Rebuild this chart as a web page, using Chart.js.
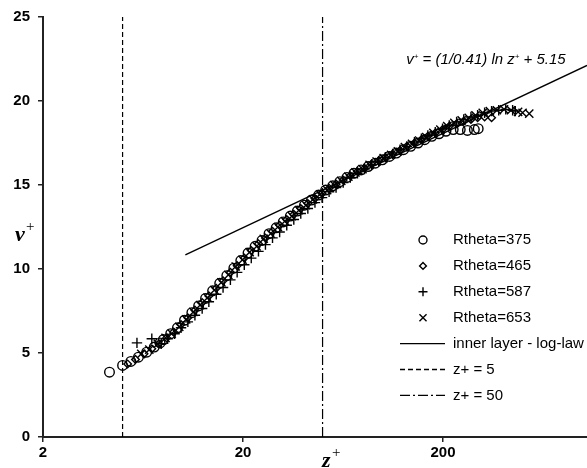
<!DOCTYPE html>
<html>
<head>
<meta charset="utf-8">
<script src="https://cdn.jsdelivr.net/npm/chart.js@4.4.1/dist/chart.umd.min.js"></script>
<style>
  html, body { margin: 0; padding: 0; background: #fff; }
  canvas { display: block; }
</style>
</head>
<body>
<canvas id="profileChart" width="587" height="468"></canvas>
<script>
// velocity profiles v+ against z+ for four Reynolds numbers
const z375 = [4.3, 5.0, 5.5, 6.0, 6.6, 7.2, 7.7, 8.0, 8.7, 9.4, 10.2, 11.1, 12.0, 13.0, 14.1, 15.3, 16.6, 18.0, 19.5, 21.2, 23.0, 24.9, 27.0, 29.3, 31.8, 34.5, 37.4, 40.6, 44.0, 47.8, 51.8, 56.2, 61.0, 66.2, 71.8, 77.9, 84.5, 91.7, 99.5, 108, 117, 127, 138, 150, 162, 176, 191, 207, 225, 244, 265, 287, 300];
const v375 = [3.86, 4.26, 4.5, 4.75, 5.05, 5.35, 5.6, 5.8, 6.15, 6.5, 6.95, 7.4, 7.8, 8.25, 8.7, 9.15, 9.6, 10.05, 10.5, 10.95, 11.35, 11.7, 12.1, 12.45, 12.8, 13.15, 13.45, 13.8, 14.1, 14.4, 14.7, 14.95, 15.2, 15.45, 15.7, 15.9, 16.1, 16.3, 16.5, 16.7, 16.9, 17.1, 17.3, 17.5, 17.7, 17.9, 18.05, 18.2, 18.3, 18.3, 18.25, 18.3, 18.35];

const z465 = [5.3, 5.8, 6.4, 7.0, 7.6, 8.3, 9.0, 9.8, 10.6, 11.5, 12.5, 13.5, 14.7, 15.9, 17.3, 18.7, 20.3, 22.0, 23.9, 25.9, 28.1, 30.5, 33.1, 35.9, 38.9, 42.2, 45.8, 49.7, 53.9, 58.4, 63.4, 68.8, 74.7, 81.0, 87.9, 95.4, 103, 112, 122, 132, 144, 156, 168, 183, 199, 215, 234, 254, 276, 298, 323, 350];
const v465 = [4.35, 4.62, 4.95, 5.25, 5.55, 5.9, 6.25, 6.7, 7.1, 7.55, 8.0, 8.4, 8.85, 9.3, 9.8, 10.2, 10.65, 11.1, 11.5, 11.85, 12.25, 12.6, 12.95, 13.25, 13.6, 13.9, 14.2, 14.5, 14.8, 15.05, 15.3, 15.55, 15.8, 16.0, 16.25, 16.45, 16.65, 16.85, 17.05, 17.3, 17.5, 17.7, 17.9, 18.1, 18.3, 18.5, 18.65, 18.8, 18.9, 19.0, 19.05, 19.0];

const z587 = [5.9, 7.0, 7.8, 8.4, 9.1, 9.8, 10.6, 11.5, 12.5, 13.5, 14.7, 15.9, 17.3, 18.7, 20.3, 22.0, 23.9, 25.9, 28.1, 30.5, 33.1, 35.9, 38.9, 42.2, 45.8, 49.7, 53.9, 58.4, 63.4, 68.8, 74.7, 81.0, 87.9, 95.4, 103, 112, 122, 132, 144, 156, 168, 183, 199, 215, 234, 254, 276, 298, 323, 350, 380, 412, 446, 460];
const v587 = [5.6, 5.85, 5.55, 5.85, 6.15, 6.5, 6.85, 7.25, 7.65, 8.05, 8.5, 8.9, 9.35, 9.8, 10.25, 10.65, 11.05, 11.45, 11.85, 12.2, 12.6, 12.95, 13.3, 13.6, 13.95, 14.25, 14.6, 14.85, 15.15, 15.45, 15.7, 15.95, 16.2, 16.4, 16.65, 16.85, 17.1, 17.3, 17.55, 17.75, 17.95, 18.15, 18.35, 18.55, 18.75, 18.9, 19.05, 19.15, 19.3, 19.4, 19.45, 19.5, 19.45, 19.4];

const z653 = [6.2, 6.8, 7.5, 8.2, 8.8, 9.6, 10.4, 11.3, 12.2, 13.3, 14.4, 15.6, 16.9, 18.4, 19.9, 21.6, 23.4, 25.4, 27.5, 29.9, 32.4, 35.1, 38.1, 41.3, 44.8, 48.6, 52.7, 57.2, 62.0, 67.3, 73.0, 79.2, 85.9, 93.2, 101, 110, 119, 129, 140, 152, 165, 179, 194, 210, 228, 248, 269, 291, 316, 343, 372, 404, 438, 475, 500, 540];
const v653 = [4.95, 5.2, 5.55, 5.9, 6.15, 6.55, 7.0, 7.45, 7.85, 8.3, 8.75, 9.2, 9.65, 10.15, 10.55, 11.0, 11.35, 11.8, 12.1, 12.5, 12.85, 13.15, 13.5, 13.8, 14.15, 14.45, 14.7, 15.0, 15.25, 15.5, 15.75, 15.95, 16.2, 16.4, 16.6, 16.8, 17.0, 17.25, 17.45, 17.65, 17.85, 18.1, 18.3, 18.5, 18.7, 18.85, 19.0, 19.15, 19.3, 19.4, 19.45, 19.5, 19.45, 19.35, 19.3, 19.25];

// inner layer log-law: v+ = (1/kappa) ln z+ + B
const kappa = 0.41;
const logLawB = 5.15;
const logLawZ = [10.3, 1050];

// reference lines z+ = 5 and z+ = 50
const refLineZ = [5, 50];

const xTicks = [2, 20, 200];
const yTicks = [0, 5, 10, 15, 20, 25];
const xMin = 2, xMax = 1050;

const pts = (zs, vs) => zs.map((z, i) => ({ x: z, y: vs[i] }));

const markerSets = [
  { label: 'Rtheta=375', z: z375, v: v375, style: 'circle', radius: 4.8, legendRadius: 4 },
  { label: 'Rtheta=465', z: z465, v: v465, style: 'rectRot', radius: 3.8, legendRadius: 3.4 },
  { label: 'Rtheta=587', z: z587, v: v587, style: 'cross', radius: 5.2, legendRadius: 4.5 },
  { label: 'Rtheta=653', z: z653, v: v653, style: 'crossRot', radius: 5.8, legendRadius: 5 },
];

const lineSets = [
  { label: 'inner layer - log-law', dash: [] },
  { label: 'z+ = 5', dash: [5, 3] },
  { label: 'z+ = 50', dash: [10, 3, 2, 3] },
];

const datasets = markerSets.map(s => ({
  label: s.label,
  data: pts(s.z, s.v),
  showLine: false,
  pointStyle: s.style,
  pointRadius: s.radius,
  pointBorderWidth: 1.4,
  pointBorderColor: '#000',
  pointBackgroundColor: 'rgba(0,0,0,0)',
}));

datasets.push({
  label: lineSets[0].label,
  data: logLawZ.map(z => ({ x: z, y: Math.log(z) / kappa + logLawB })),
  showLine: true,
  borderColor: '#000',
  borderWidth: 1.3,
  pointRadius: 0,
});

refLineZ.forEach((z, i) => {
  datasets.push({
    label: lineSets[i + 1].label,
    data: [{ x: z, y: yTicks[0] }, { x: z, y: yTicks[yTicks.length - 1] }],
    showLine: true,
    borderColor: '#000',
    borderWidth: 1.2,
    borderDash: lineSets[i + 1].dash,
    pointRadius: 0,
  });
});

// legend, equation and axis titles drawn on top of the chart
const annotations = {
  id: 'annotations',
  afterDraw(chart) {
    const ctx = chart.ctx;
    ctx.save();
    ctx.strokeStyle = '#000';
    ctx.textBaseline = 'middle';
    ctx.font = '15px "Liberation Sans", Arial, sans-serif';

    const rowY = 240, rowStep = 25.9;
    markerSets.forEach((s, i) => {
      const y = rowY + i * rowStep;
      ctx.lineWidth = 1.4;
      ctx.fillStyle = 'rgba(0,0,0,0)';
      Chart.helpers.drawPoint(ctx, { pointStyle: s.style, radius: s.legendRadius, borderWidth: 1.4, rotation: 0 }, 423, y);
      ctx.fillStyle = '#000';
      ctx.fillText(s.label, 453, y);
    });
    lineSets.forEach((s, i) => {
      const y = rowY + (markerSets.length + i) * rowStep;
      ctx.beginPath();
      ctx.lineWidth = 1.3;
      ctx.setLineDash(s.dash);
      ctx.moveTo(400, y);
      ctx.lineTo(445, y);
      ctx.stroke();
      ctx.setLineDash([]);
      ctx.fillText(s.label, 453, y);
    });

    // log-law equation
    const big = 'italic 15px "Liberation Sans", Arial, sans-serif';
    const sup = 'italic 8px "Liberation Sans", Arial, sans-serif';
    const parts = [
      ['v', big, 0], ['+', sup, -5], [' = (1/0.41) ', big, 0], ['ln ', big, 0],
      ['z', big, 0], ['+', sup, -5], [' + 5.15', big, 0],
    ];
    let w = 0;
    parts.forEach(p => { ctx.font = p[1]; w += ctx.measureText(p[0]).width; });
    let x = 486 - w / 2;
    ctx.textBaseline = 'alphabetic';
    parts.forEach(p => {
      ctx.font = p[1];
      ctx.fillText(p[0], x, 64 + p[2]);
      x += ctx.measureText(p[0]).width;
    });

    // axis titles
    const serif = 'italic bold 22px "Liberation Serif", "Times New Roman", serif';
    const serifSup = '15px "Liberation Serif", "Times New Roman", serif';
    ctx.font = serif;
    ctx.fillText('v', 15, 241);
    ctx.font = serifSup;
    ctx.fillText('+', 26, 231);
    ctx.font = serif;
    ctx.fillText('z', 322, 467);
    ctx.font = serifSup;
    ctx.fillText('+', 332, 457);
    ctx.restore();
  }
};

const tickFont = { family: '"Liberation Sans", Arial, sans-serif', size: 15, weight: 'bold' };

new Chart(document.getElementById('profileChart').getContext('2d'), {
  type: 'scatter',
  data: { datasets },
  options: {
    responsive: false,
    animation: false,
    layout: { autoPadding: false, padding: { top: 14, right: 0, left: 0, bottom: 0 } },
    plugins: {
      legend: { display: false },
      tooltip: { enabled: false },
    },
    scales: {
      x: {
        type: 'logarithmic',
        min: xMin,
        max: xMax,
        afterBuildTicks: s => { s.ticks = xTicks.map(v => ({ value: v })); },
        afterFit: s => { s.height = 31; s.paddingLeft = 0; s.paddingRight = 0; },
        border: { color: '#222', width: 2 },
        grid: { drawOnChartArea: false, tickLength: 5, color: '#222', lineWidth: 1.5 },
        ticks: { color: '#000', font: tickFont, padding: 2, maxRotation: 0, autoSkip: false, callback: v => String(v) },
      },
      y: {
        min: yTicks[0],
        max: yTicks[yTicks.length - 1],
        afterBuildTicks: s => { s.ticks = yTicks.map(v => ({ value: v })); },
        afterFit: s => { s.width = 43; },
        border: { color: '#222', width: 2 },
        grid: { drawOnChartArea: false, tickLength: 5, color: '#222', lineWidth: 1.5 },
        ticks: { color: '#000', font: tickFont, padding: 8, callback: v => String(v) },
      }
    }
  },
  plugins: [annotations]
});
</script>
</body>
</html>
